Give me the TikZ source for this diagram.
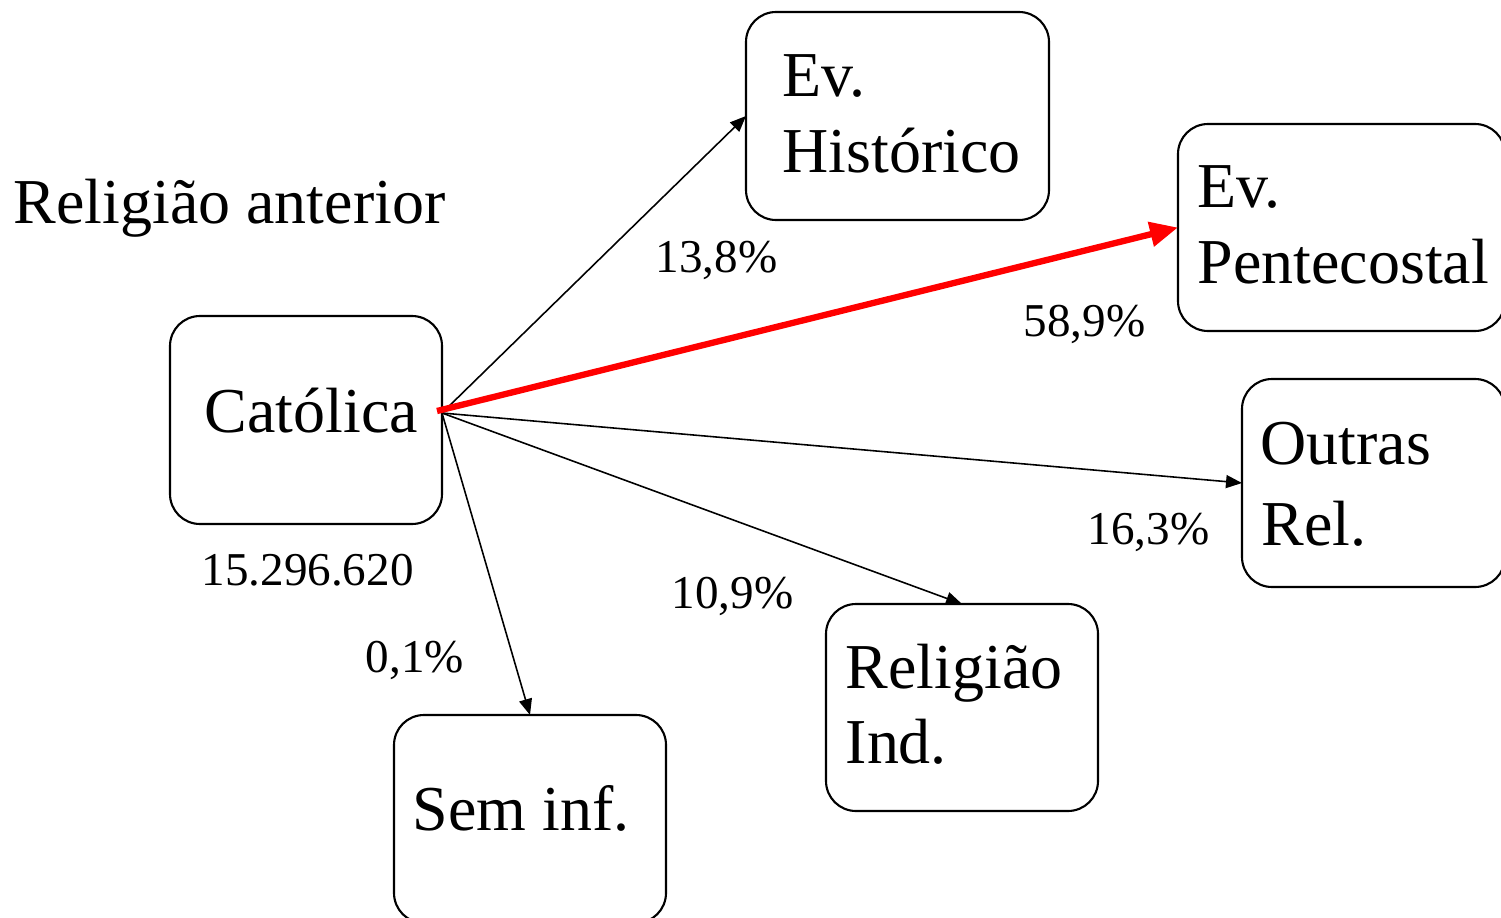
\documentclass[tikz,border=0pt]{standalone}
\usepackage{fontspec}
\setmainfont{Liberation Serif}
\usetikzlibrary{arrows.meta}
\definecolor{arrred}{RGB}{255,0,0}
\begin{document}
\begin{tikzpicture}[x=1cm,y=1cm,
  box/.style n args={2}{draw, line width=0.6pt, rounded corners=0.3cm, inner sep=0pt, outer sep=0pt, minimum width=#1cm, minimum height=#2cm},
  big/.style={anchor=base west, inner sep=0pt, font=\fontsize{18.2}{22}\selectfont},
  pct/.style={anchor=base west, inner sep=0pt, font=\fontsize{13.4}{16}\selectfont},
  conn/.style={line width=0.45pt, -{Triangle[length=0.16cm,width=0.13cm]}},
  mainconn/.style={draw=arrred, line width=1.8pt, -{Triangle[length=0.28cm,width=0.24cm]}}]
\clip (0,0) rectangle (15.01,-9.18);
\fill[white] (0,0) rectangle (15.01,-9.18);
% boxes
\node[box={2.72}{2.08}] (cat) at (3.06,-4.20) {};
\node[box={3.03}{2.08}] (hist) at (8.975,-1.16) {};
\node[box={3.27}{2.07}] (pent) at (13.415,-2.275) {};
\node[box={2.63}{2.08}] (outras) at (13.735,-4.83) {};
\node[box={2.72}{2.07}] (ind) at (9.62,-7.075) {};
\node[box={2.72}{2.08}] (sem) at (5.30,-8.19) {};
% texts
\node[big] (title) at (0.13,-2.23) {Religião anterior};
\node[big] (catt) at (2.04,-4.32) {Católica};
\node[pct] (count) at (2.01,-5.85) {15.296.620};
\node[big] (histA) at (7.82,-0.97) {Ev.};
\node[big] (histB) at (7.82,-1.72) {Histórico};
\node[big] (pentA) at (11.97,-2.07) {Ev.};
\node[big] (pentB) at (11.97,-2.83) {Pentecostal};
\node[big] (outA) at (12.60,-4.64) {Outras};
\node[big] (outB) at (12.61,-5.45) {Rel.};
\node[big] (indA) at (8.45,-6.88) {Religião};
\node[big] (indB) at (8.45,-7.63) {Ind.};
\node[big] (semt) at (4.12,-8.30) {Sem inf.};
% percentages
\node[pct] (p138) at (6.55,-2.72) {13,8\%};
\node[pct] (p589) at (10.23,-3.36) {58,9\%};
\node[pct] (p163) at (10.87,-5.44) {16,3\%};
\node[pct] (p109) at (6.71,-6.08) {10,9\%};
\node[pct] (p01) at (3.65,-6.72) {0,1\%};
% connectors
\coordinate (src) at ([yshift=0.07cm]cat.east);
\draw[conn] (src) -- (hist.west);
\draw[conn] (src) -- (outras.west);
\draw[conn] (src) -- (ind.north);
\draw[conn] (src) -- (sem.north);
\draw[mainconn] ([xshift=-0.05cm,yshift=0.02cm]src) -- (pent.west);
\end{tikzpicture}
\end{document}
